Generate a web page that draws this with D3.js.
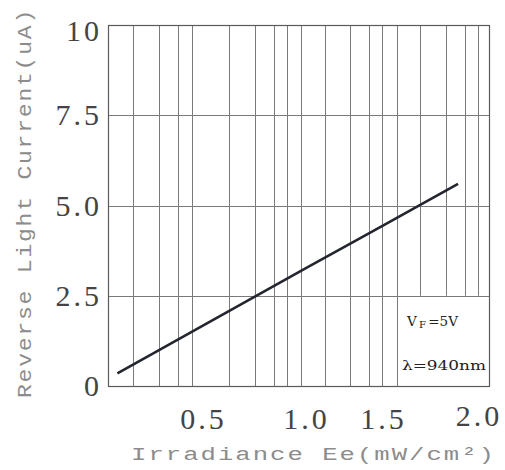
<!DOCTYPE html>
<html>
<head>
<meta charset="utf-8">
<script src="https://cdn.jsdelivr.net/npm/d3@7"></script>
<style>
  body { margin: 0; background: #fff; }
  svg { display: block; }
</style>
</head>
<body>
<svg></svg>
<script>
// curve (straight line in the drawn coordinates)
let irradiance = [0.095, 0.5, 1.0, 1.5, 1.898]
let current = [0.35, 1.66, 3.25, 4.43, 5.6]

let xTicks = [0.5, 1.0, 1.5, 2.0]
let xTickLabels = ['0.5', '1.0', '1.5', '2.0']
let yTicks = [0, 2.5, 5, 7.5, 10]
let yTickLabels = ['0', '2.5', '5.0', '7.5', '10']

// vertical grid lines (the chart's x axis is not evenly spaced)
let xGrid = [0.171, 0.294, 0.385, 0.451, 0.633, 0.756, 0.848, 0.911, 0.983,
             1.128, 1.292, 1.414, 1.5, 1.577, 1.700, 1.833, 1.935, 2.0]
let yGrid = [2.5, 5, 7.5]
let legendEdge = 1.577   // lines right of this stop at 2.5 (legend box)

let width = 505
let height = 470
let padLeft = 108, padRight = 489, padTop = 25, padBottom = 386
let gridColor = '#7a7a7a'
let svg = d3.select('svg').attr('width', width).attr('height', height)

// piecewise linear scale so tick labels land where the datasheet put them
let xScale = d3.scaleLinear()
  .domain([0.05, 0.5, 1.0, 1.5, 2.06])
  .range([padLeft, 202, 305, 382, padRight])
let yScale = d3.scaleLinear().domain([0, 10]).range([padBottom, padTop])

let drawGrid = () => {
  svg.append('g').selectAll('line')
    .data(xGrid)
    .enter()
    .append('line')
    .attr('x1', d => Math.round(xScale(d)) + 0.5)
    .attr('x2', d => Math.round(xScale(d)) + 0.5)
    .attr('y1', padTop)
    .attr('y2', d => d > legendEdge ? yScale(2.5) : padBottom)
    .attr('stroke', gridColor)
    .attr('stroke-width', 1)

  svg.append('g').selectAll('line')
    .data(yGrid)
    .enter()
    .append('line')
    .attr('x1', padLeft)
    .attr('x2', padRight)
    .attr('y1', d => Math.round(yScale(d)) + 0.5)
    .attr('y2', d => Math.round(yScale(d)) + 0.5)
    .attr('stroke', gridColor)
    .attr('stroke-width', 1)

  svg.append('rect')
    .attr('x', padLeft + 0.5)
    .attr('y', padTop + 0.5)
    .attr('width', padRight - padLeft)
    .attr('height', padBottom - padTop)
    .attr('fill', 'none')
    .attr('stroke', '#5a5a5a')
    .attr('stroke-width', 1.2)
}

let drawLabels = () => {
  svg.append('g').selectAll('text')
    .data(yTicks)
    .enter()
    .append('text')
    .attr('x', 102)
    .attr('y', d => Math.min(Math.max(yScale(d), padTop + 6), padBottom + 6))
    .attr('dy', '0.34em')
    .attr('text-anchor', 'end')
    .attr('font-family', 'Liberation Serif')
    .attr('font-size', 30)
    .attr('letter-spacing', 3)
    .attr('fill', '#444')
    .text((d, i) => yTickLabels[i])

  svg.append('g').selectAll('text')
    .data(xTicks)
    .enter()
    .append('text')
    .attr('x', d => xScale(d) + 1.5)
    .attr('y', d => d === 2.0 ? 426 : 429)
    .attr('text-anchor', 'middle')
    .attr('font-family', 'Liberation Serif')
    .attr('font-size', 30)
    .attr('letter-spacing', 3)
    .attr('fill', '#444')
    .text((d, i) => xTickLabels[i])

  svg.append('text')
    .attr('x', 131)
    .attr('y', 460)
    .attr('font-family', 'Liberation Mono')
    .attr('font-size', 19)
    .attr('fill', '#8c8c8c')
    .attr('letter-spacing', 1.5)
    .attr('textLength', 365)
    .attr('lengthAdjust', 'spacingAndGlyphs')
    .text('Irradiance Ee(mW/cm²)')

  svg.append('text')
    .attr('transform', 'translate(31,398) rotate(-90)')
    .attr('font-family', 'Liberation Mono')
    .attr('font-size', 20)
    .attr('fill', '#8c8c8c')
    .attr('letter-spacing', 1.5)
    .attr('textLength', 390)
    .attr('lengthAdjust', 'spacingAndGlyphs')
    .text('Reverse Light Current(uA)')
}

let drawCurve = () => {
  let pts = irradiance.map((x, i) => [x, current[i]])
  let line = d3.line()
    .x(d => xScale(d[0]))
    .y(d => yScale(d[1]))
  svg.append('path')
    .datum(pts)
    .attr('d', line)
    .attr('fill', 'none')
    .attr('stroke', '#23262e')
    .attr('stroke-width', 2.6)
}

let drawLegend = () => {
  let g = svg.append('g')
    .attr('font-family', 'DejaVu Serif')
    .attr('fill', '#222')
  let vf = g.append('text').attr('x', 407).attr('y', 326).attr('font-size', 12)
    .attr('textLength', 51).attr('lengthAdjust', 'spacingAndGlyphs')
  vf.append('tspan').text('V')
  vf.append('tspan').attr('font-size', 9).attr('dx', 2).attr('dy', 1.5).text('F')
  vf.append('tspan').attr('dy', -1.5).attr('dx', 2).text('=5V')

  g.append('text')
    .attr('x', 402)
    .attr('y', 370)
    .attr('font-size', 13)
    .attr('textLength', 84)
    .attr('lengthAdjust', 'spacingAndGlyphs')
    .text('λ=940nm')
}

drawGrid()
drawCurve()
drawLabels()
drawLegend()
</script>
</body>
</html>
